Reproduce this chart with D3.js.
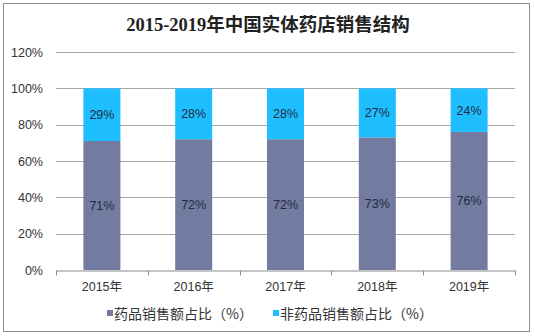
<!DOCTYPE html>
<html>
<head>
<meta charset="utf-8">
<script src="https://cdn.jsdelivr.net/npm/d3@7/dist/d3.min.js"></script>
<style>
  html, body { margin: 0; padding: 0; background: #fff; }
  svg { display: block; }
</style>
</head>
<body>
<svg id="chart" width="535" height="336"></svg>
<script>
const years = ["2015年", "2016年", "2017年", "2018年", "2019年"];
const drugShare = [71, 72, 72, 73, 76];
const nonDrugShare = [29, 28, 28, 27, 24];
const seriesNames = ["药品销售额占比（%）", "非药品销售额占比（%）"];
const yTicks = [0, 20, 40, 60, 80, 100, 120];
const colors = ["#737ba0", "#1fbfff"];

const svg = d3.select("#chart");
const W = 535, H = 336;
const margin = { left: 56, right: 20, top: 52, bottom: 66 };
const x0 = margin.left, x1 = W - margin.right;
const y0 = H - margin.bottom, y1 = margin.top;

// outer frame
svg.append("rect")
  .attr("x", 3.5).attr("y", 3.5)
  .attr("width", 526).attr("height", 328)
  .attr("fill", "#fff").attr("stroke", "#8c8c8c").attr("stroke-width", 1);

// title
svg.append("text")
  .attr("x", 268).attr("y", 31)
  .attr("text-anchor", "middle")
  .attr("font-family", "'Liberation Serif', 'DejaVu Serif', 'Noto Sans CJK SC', serif")
  .attr("font-weight", "bold")
  .attr("font-size", 18.5)
  .attr("fill", "#222")
  .text("2015-2019年中国实体药店销售结构");

const x = d3.scaleBand().domain(years).range([x0, x1]).paddingInner(0).paddingOuter(0);
const y = d3.scaleLinear().domain([0, 120]).range([y0, y1]);
const barW = 37;

// gridlines and y labels
const gy = svg.append("g");
gy.selectAll("line").data(yTicks.filter(d => d > 0)).join("line")
  .attr("x1", x0).attr("x2", x1)
  .attr("y1", d => Math.round(y(d)) + 0.5).attr("y2", d => Math.round(y(d)) + 0.5)
  .attr("stroke", "#a6a6a6").attr("stroke-width", 1);
gy.selectAll("text").data(yTicks).join("text")
  .attr("x", 43).attr("y", d => y(d) + 4.5)
  .attr("text-anchor", "end")
  .attr("font-family", "Arial, 'Liberation Sans', sans-serif")
  .attr("font-size", 12.5)
  .attr("fill", "#333")
  .text(d => d + "%");

// stacked bars
const rows = years.map((yr, i) => ({ year: yr, drug: drugShare[i], nonDrug: nonDrugShare[i] }));
const stack = d3.stack().keys(["drug", "nonDrug"])(rows);
const layers = svg.append("g").selectAll("g").data(stack).join("g")
  .attr("fill", (d, i) => colors[i]);
layers.selectAll("rect").data(d => d).join("rect")
  .attr("x", d => x(d.data.year) + x.bandwidth() / 2 - barW / 2)
  .attr("width", barW)
  .attr("y", d => y(d[1]))
  .attr("height", d => y(d[0]) - y(d[1]));

// value labels
const labels = svg.append("g");
stack.forEach(layer => {
  labels.selectAll(null).data(layer).join("text")
    .attr("x", d => x(d.data.year) + x.bandwidth() / 2)
    .attr("y", d => y((d[0] + d[1]) / 2) + 4.5)
    .attr("text-anchor", "middle")
    .attr("font-family", "Arial, 'Liberation Sans', sans-serif")
    .attr("font-size", 12.5)
    .attr("fill", "#1f2a44")
    .text(d => (d[1] - d[0]) + "%");
});

// x axis
const xAxis = d3.axisBottom(x).tickSize(0).tickSizeOuter(0);
const gx = svg.append("g").attr("transform", `translate(0,${Math.round(y0) + 0.5})`).call(xAxis);
gx.select(".domain").attr("stroke", "#8c8c8c");
gx.selectAll(".tick text")
  .attr("dy", 0).attr("y", 20)
  .attr("font-family", "Arial, 'Liberation Sans', 'Noto Sans CJK SC', sans-serif")
  .attr("font-size", 12.5)
  .attr("fill", "#333");
// category boundary ticks
gx.selectAll(".bound").data(d3.range(years.length + 1)).join("line")
  .attr("class", "bound")
  .attr("x1", i => Math.round(x0 + i * x.bandwidth()) + 0.5)
  .attr("x2", i => Math.round(x0 + i * x.bandwidth()) + 0.5)
  .attr("y1", 0).attr("y2", 5)
  .attr("stroke", "#8c8c8c");

// legend
const legend = svg.append("g").attr("font-family", "'Noto Sans CJK SC', sans-serif").attr("font-size", 14);
const legendX = [107, 273];
seriesNames.forEach((name, i) => {
  legend.append("rect")
    .attr("x", legendX[i]).attr("y", 310)
    .attr("width", 6).attr("height", 6)
    .attr("fill", colors[i]);
  legend.append("text")
    .attr("x", legendX[i] + 7).attr("y", 318.5)
    .attr("fill", "#333")
    .text(name);
});
</script>
</body>
</html>
